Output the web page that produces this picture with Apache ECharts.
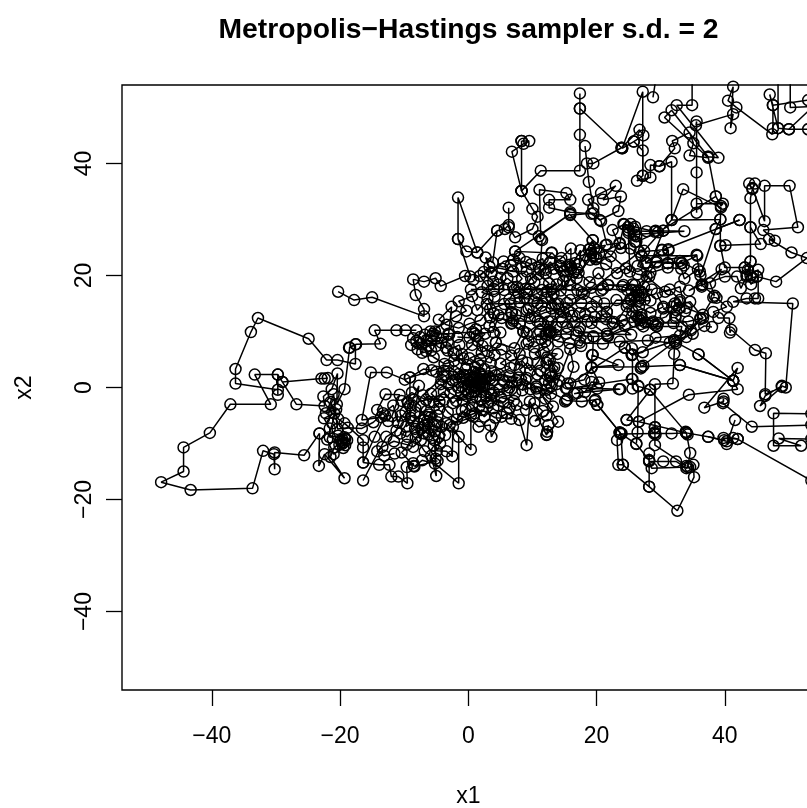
<!DOCTYPE html>
<html>
<head>
<meta charset="utf-8">
<script src="https://cdn.jsdelivr.net/npm/echarts@6/dist/echarts.min.js"></script>
<style>
html, body { margin: 0; padding: 0; background: #fff; overflow: hidden; }
#main { width: 807px; height: 808px; }
</style>
</head>
<body>
<div id="main"></div>
<script>
// sampler chain, one list per stretch of the plot
let xTicks = [-40, -20, 0, 20, 40];
let yTicks = [-40, -20, 0, 20, 40];

let westArm = [[-23.2,-8.2],[-25.6,-12.1],[-30.2,-11.6],[-30.2,-14.6],[-30.3,-11.9],[-32,-11.3],[-33.65,-18],[-43.3,-18.3],[-47.9,-16.9],[-44.4,-15],[-44.4,-10.7],[-40.3,-8.1],[-37.1,-3],[-30.8,-3],[-33.3,2.3],[-29.7,2.3],[-29.7,-1.3],[-29.7,-0.4],[-36.3,0.7],[-36.3,3.3],[-33.9,9.9],[-32.8,12.4],[-24.9,8.7],[-22.1,4.9],[-20.4,4.9],[-17.6,4.2],[-17.6,7.7],[-18.6,7.1],[-17.5,7.7],[-13.7,7.8],[-14.6,10.2],[-11.2,10.2],[-9.8,10.2],[-8.1,10.2]];
let westLink = [[-29.7,2.3],[-29,1],[-26.8,-3],[-22.4,-3.3],[-22.6,-1.6],[-21.3,-0.3],[-20.4,2.5],[-20.5,-3],[-19.3,-0.3],[-18.5,7.1]];
let westLink2 = [[-29,1],[-22.9,1.6],[-22.4,1.6],[-21.9,1.7]];
let northWest = [[-20.3,17.1],[-17.8,15.6],[-15,16.1],[-6.9,12.7],[-6.9,14],[-8.2,16.5],[-8.6,19.3],[-6.9,18.9],[-5.1,19.5],[-4.3,18.1],[-0.5,19.9],[0.3,19.8],[-1.6,26.5],[-0.3,24.3],[1.4,24.1],[-1.6,33.9],[-1.6,26.5]];
let westCluster = [[-23.2,-8.2],[-23.3,-14],[-22.4,-11.9],[-19.3,-16.2],[-21.5,-12.4],[-20.9,-10.7],[-19.7,-9.7],[-19.2,-9.2],[-19.7,-10.1],[-20.3,-8.6],[-21.6,-8.9],[-21.6,-7.3],[-22.5,-5.5],[-20.9,-4.6],[-21.5,-2.6],[-20.3,-5.6],[-19.3,-6.4],[-16.4,-9.4],[-16.4,-10.7],[-16.4,-13.4],[-14.6,-8.8],[-13,-5],[-14.2,-4],[-12.9,-1.2],[-10.7,-1.3],[-11.9,-5.1],[-12.5,-6],[-13.6,-5.3],[-16.6,-5.8],[-15.2,2.7],[-12.7,2.7],[-9.9,1.4],[-9.1,1.8],[-9.1,-3.2],[-7.7,0.3],[-8.3,-4.4],[-9.4,-2.8],[-9.7,-7],[-7.6,-5.2],[-8,-8],[-6.8,-6.8],[-5.6,-9],[-6.4,-6],[-4.8,-5],[-6.5,-4.2],[-8.6,-6],[-10.5,-5],[-11.2,-7.7],[-12.8,-8.8],[-16.4,-16.6]];
let westKnot = [[-19.6,-9.3],[-19.4,-9.8],[-19.9,-9.5],[-19.2,-10.3],[-18.9,-9.4],[-19.3,-8.9],[-20.1,-10.2],[-19.5,-10.8],[-21,-11.9],[-22,-9.3],[-21.2,-6.4],[-20.6,-3.9],[-22.2,-4.6],[-21,-1.2],[-20.4,-7.4],[-18.8,-7.2],[-16.6,-7.3],[-14.8,-6.2],[-13.3,-4.6],[-11.7,-3.2],[-11,-6.2],[-9.8,-4.4],[-8.5,-2.2],[-7.4,-3.4],[-7.8,-6.4],[-6.9,-8.2],[-6.2,-7.2],[-5.2,-6.6],[-5.9,-5.3],[-6.9,-5.8],[-7.2,-7.2],[-6.2,-8.4],[-5.2,-7.8],[-4.2,-7],[-4.6,-8.8],[-5.4,-10.4],[-4.4,-10],[-3.6,-8.5],[-4.8,-6.2],[-6.1,-4.8],[-4.5,-3.8],[-5.4,-2.6],[-3.8,-2.2],[-6.6,-2.2],[-8.8,-0.9],[-10.4,-2.4],[-9,-5.4],[-10.6,-8.2],[-9.5,-8.8],[-8.3,-7.4],[-7.4,-9.4],[-8.6,-10.6],[-9.6,-10.2],[-11.6,-9.6],[-13.4,-10.6],[-14.2,-11.4],[-13.1,-12.2],[-11.5,-11.8]];
let southWest = [[-16.4,-13.4],[-13.9,-13.8],[-12.3,-13.8],[-12,-15.9],[-10.9,-15.9],[-9.5,-17.1],[-9.6,-14.2],[-8.6,-13.5],[-8.5,-14],[-10.4,-11.6],[-8.2,-9],[-6.8,-11.4],[-5.8,-12.2],[-5,-15.8],[-5.1,-12.7],[-5.3,-9.4],[-4.9,-11.3],[-3.4,-11.4],[-2.5,-12.3],[-2.4,-7],[-1.5,-8.8],[-1.5,-17.1],[-5.2,-13.6],[-7.2,-13],[-8.4,-14.1],[-4.8,-13.1]];
let southLink = [[-3.4,-6.4],[0.4,-11.1],[0.4,-5],[-1,-4.2],[1.6,-7],[3.4,-6.7],[3.6,-8.8],[5.2,-5.2],[6,-4.6],[8,-5.8],[9.1,-10.3],[9.6,-2.5],[12.2,-8.5],[12.5,-6.7],[12.3,-7.9],[12.2,-8.4],[14,-6.1],[10.6,0.2],[12.2,-0.4],[15.3,-2.3],[15.1,-2.5],[15.4,-2.1],[17.7,-2.5],[19.8,-2.2],[20.1,-3.1],[19.7,-2.4],[23.7,-8.1]];

let centreKnot = [[-5.7,3.1],[-7,3.3],[-9.1,1.8],[-3.1,3.9],[-1.5,2.4],[-2.4,1.2],[-0.4,3.2],[0.8,1.3],[-1,0.2],[0.2,2.2],[1.8,2.6],[1,0.4],[2.1,1.1],[1.3,2],[0,-1],[-1.9,-2.4],[1.2,-1.7],[2.5,0.4],[3.4,1.6],[1.5,4.2],[0.2,5.2],[2.1,6.2],[1.5,8.3],[2.6,9.6],[1.2,10.4],[0.6,7.6],[-1,6],[-2.2,4.8],[-3.2,6.6],[-1.4,7.6],[-0.8,5.2],[-3.7,4.2],[-5.4,5.4],[-6.6,6.5],[-8.1,8.3],[-8.9,7.6],[-7.9,6.8],[-6.5,8.5],[-5,7.4],[-5,9.2],[-6.8,9.4],[-7.3,7.8],[-4.2,8],[-3,9.4],[-5.9,10],[-1.9,12.7],[-0.3,13.7],[-1.5,15.4],[0.6,16.3],[1.4,13.8],[3,15.9],[4,13.2],[3.3,11],[5,9.8],[4.3,8],[3,6.5],[5.2,6.8],[6.7,5.7],[5,4.3],[6.6,3.5],[4.3,2.2],[5.6,1],[7.5,1.3],[6.1,-0.5],[4,-0.9],[3.1,-2.7],[1.7,-3.4],[3.9,-3.7],[2.5,-5.2],[0.6,-3.1],[-0.9,-2.2],[-2.8,-1],[-4.3,0.6],[-5.8,-1.1],[-4.5,-2.5],[-3.2,-4.4],[-1.8,-5.7],[-0.4,-3.9],[1,-0.8],[2.2,0.2],[3.6,-1.2],[5.1,-1.8],[7.1,-2.4],[6.4,-3.6],[4.6,-3.2],[2.8,-1.6],[1.5,0.7],[0.5,0.9],[2.1,1.9],[3.6,2.9],[2.7,1.5],[1,1.6],[-0.4,-0.5],[-2.4,-2.8],[-3.8,-0.8],[-6.1,-2.6],[-7.1,-1.4],[-3.9,1.9]];
let coreRows = [[-3.4,1.9],[-2,1.4],[-1.2,1.9],[0.2,1],[1.4,1.5],[2.6,1],[3.8,1.3],[5.4,1.4],[6.8,0.9],[7.8,1.8],[6.4,2],[4.8,2.3],[3.2,2],[1.8,0.4],[0.6,0.2],[-0.8,1],[-1.6,0],[-3,0.6],[-4.2,1.4],[-5,2.8],[-3.8,3],[-2.2,2.8],[-0.6,2.2],[0.9,2.8],[2.5,3.3],[1.1,3.6],[-0.4,1.5],[0.5,0.5],[1.3,1],[0.8,1.9],[1.9,1.4],[1.1,0.1],[0,0.1],[-1.1,-1],[0.6,-1.8],[2.1,-0.8],[3.3,-0.3],[4.8,-0.4],[6.4,0],[8.4,0.6],[9.7,-0.3],[10.6,-0.2],[8.9,1.4],[7.3,-1],[5.5,-2.6],[3.6,-2.4],[1.9,-2.2],[1,-4.6],[-0.8,-5.4],[-2.9,-6.7],[0.8,-5.2],[2.1,-4],[4.2,-5.4],[6.7,-5.6],[7.5,-3.1],[9,-4],[10.3,-2.8],[11.6,-4.2],[10.4,-6],[12.2,-5],[13.2,-3.4],[12,-2],[11,-0.9],[13,0.2],[12,1.3],[12.7,2.2],[14.2,1.2],[13.4,3.6],[12.7,4.9],[13.9,6],[11.8,6.3],[10.8,4.4],[9.7,3],[8.4,4.8],[7.2,4],[8,6],[9.1,7.8],[10.2,7.2],[12,8.2],[12.7,9.9],[11.2,11.4],[9.1,9.7],[8,11.4],[6.7,11.4],[6.7,13.5],[4.7,12.9],[3.9,9.9],[1,9.6],[1.3,9.2],[0.7,9.9],[-3.1,9.6],[-5.5,9.6],[-5.7,9.2],[-5.2,10],[-3.5,7.1],[-2.3,6.2],[-0.2,4],[1.9,4.9],[3.5,4.4],[4.1,5.8],[2.2,7.4],[0.2,8.9],[-1.7,9]];
let midBand = [[4.3,8],[7.2,7],[8.6,10],[9.4,8.2],[10.9,9.5],[12.4,7.4],[10.4,6],[12.2,4.4],[11.2,3],[13,1.9],[12.8,2.5],[12.4,5],[14,3.5],[12.6,0.8],[10.8,2.3],[9.2,4.4],[8,3.2],[9.1,1.7],[8.4,-0.5],[10.6,0.2],[12.9,-1.1],[13.8,0.6],[15.9,6.8],[16.4,3.7],[15.5,0.7],[18.1,1.4],[19.2,3.6],[23.4,4],[19.3,5.8],[19.2,3.5],[20.4,0.9],[19.2,1],[18.2,-0.8],[16.5,-1.1],[20.1,-0.2],[23.7,-0.3],[15.2,-0.1]];
let midBand2 = [[6.8,13.3],[6.8,11.5],[5.2,12.4],[8.6,10],[9.4,14.1],[12.5,11.8],[12.7,9.9],[13.7,10.8],[11.2,10],[11.4,8.6],[13.6,9.4],[15.3,9.6],[16.8,9.3],[19.5,9.1],[21.7,9.2],[26.9,11.3],[25.5,12.6],[24,12],[22.5,11.4],[21.5,12.2],[19.7,12.6],[18.2,13.1],[16.6,11.7],[15.6,13.6],[14.4,12.6],[13,14.1],[12,16],[10.2,15.4],[9.1,16.8],[8,15.2],[6.4,15.7],[7.6,18],[6.1,19.5],[4.7,18.4],[3,18.1],[1.8,19.9],[3.3,21.6],[5.3,21.2],[7,20.7],[9.1,20.7],[10.3,18.8],[8.9,17.6],[11.5,17.4],[13.8,18.4],[12.1,20.4],[14.4,21.7],[15.8,19.2],[14.4,17.3],[15.9,15.6],[18,16.7],[20,15.3],[21.6,13.5],[23.1,15.6],[25.4,15.5],[28.4,15.5],[27.4,18],[25.6,18.4],[24.2,18.3],[26,18.3],[21.8,18.3],[20.3,20.4],[18.9,18.8],[17.2,20.5],[19,22.8],[21.5,22],[23.2,20.4],[24.6,21.3],[26.4,20.2],[28.2,19.8],[26.5,17.3],[25.3,15.8],[26.6,14.4],[28.4,13.3],[30.4,14.4],[29.4,16.8],[31.4,17.5],[33,15.6],[30.8,12.6],[28.8,11.8],[27,12.4],[27.3,10.9],[29.4,10.9],[33.3,10.9],[33,9.3],[29.2,8.9],[27.2,6.3],[25.5,5.8],[24.4,7.1]];
let bandKnots = [[13,24.1],[14.3,22.5],[15.4,21.6],[16.1,21.3],[16.4,20.6],[15.8,21.9],[17,21.1],[16.6,22.2],[14.9,20.7],[13.3,21.2],[15.2,19.9],[16.9,19.5],[19.2,24],[19.5,23.4],[18.8,24.6],[19.6,24.8],[18.3,23.6],[19.9,22.9],[22.2,23.4],[23.6,25.8],[21.6,25.5],[20.7,29.7],[19.5,31.1],[15.9,30.8],[19.4,26.3],[25.2,20.7],[24.9,28.6],[26,28.7],[25,27.6],[26,26],[24.2,29.2],[29.1,27.8],[30.4,28],[26.5,16.5],[26.8,15.9],[26.2,17],[27.1,16.9],[25.9,16.2],[26.5,15.4],[27.5,15.7],[25.4,17.4],[24,18],[21.8,18.3],[20.7,17.3],[19.2,17.8],[17.7,17],[15.9,18.3],[13.3,16.8],[12.2,17.1],[13.6,14.9],[15.4,15.1],[17.4,13.3],[19.2,14.4],[20.8,12.7],[19.2,11.5],[21.8,9.2],[24.7,14.5],[25.6,13.6],[26.5,12.4],[26.8,12],[26.2,12.8],[27,13],[25.9,11.8],[27.6,11.6],[29.1,11.2],[29.4,11],[28.8,11.5],[29.6,11.5],[32,11.5],[34.3,11.8],[36.6,12.4],[34.6,15.3],[32.5,14.7],[32.9,14.2],[32.2,15],[33,15.2],[31.8,14.4],[30.4,14.1],[32.3,12.8],[33.8,13.6],[33,18],[30.7,17.1],[27.8,19.8],[29.4,22.5],[33.3,22.2],[33.6,21.8],[33,22.6],[36.1,20.7],[36.4,18],[35.6,23.7],[27.6,22.2],[30.2,24.6],[31.2,24.7],[26.7,24.2],[13,11.8],[12.7,10],[12.5,10.3],[13,9.8],[12.2,9.5],[14,8.2],[15.8,7.9],[17.6,7.4],[18.4,8.8],[17.4,10.6],[15.4,10.8],[16.2,12.8],[14.2,14],[12,13.4],[10.4,12.6],[9.1,13.8],[7.8,16.9],[9.8,19.4],[11.2,21],[11.5,26.3]];
let bandRows = [[0.4,17.5],[4,17.6],[7.2,17.4],[9.6,17.6],[13,17.5],[17,17.4],[21,17.6],[24.8,17.4],[28.6,17.5],[24.9,15],[21.2,15],[17.6,15.1],[14,15],[10.8,15.1],[6.6,15],[2.9,14.9],[3.4,12.5],[7,11.9],[10.8,11.8],[14.6,11.7],[18.6,11.8],[22.7,11.7],[25.4,9.4],[21.6,9.6],[17.2,10],[17.4,8],[21,7.8],[23.6,8.2],[28,8.4],[31.4,8],[35,9.6],[36.8,11],[38,10.8]];
let upperKnots = [[0.8,19.2],[2.4,20.6],[3.9,18.9],[2.1,17],[4.1,16.2],[5.6,17.4],[5,19.6],[6.6,21.8],[8.4,19.4],[7,17.9],[8.8,16],[10.8,16.8],[12.6,18.6],[10.9,20.2],[12.8,22.4],[14.8,19],[13,16.2],[14.9,13.4],[11.4,14.6],[9.6,12.4],[7.4,13],[5.6,14.9],[3.4,14],[1.9,12],[0.2,11.4],[-1.5,10.6],[-3.4,11.2],[-4.6,12.1],[-2.6,14.4],[-3.2,8.2],[-6.2,7.4],[-7.5,9],[-8.6,8.8],[-7.2,6.2],[-5.8,6.6]];
let midBand3 = [[4.5,28],[5.7,28.3],[6.3,29],[6.3,32.1],[6.3,28.6],[7.3,26.8],[10,28.3],[10.8,30.5],[10,31.9],[8.3,35.1],[11.3,38.7],[17.4,38.7],[17.4,45.1],[17.4,49.8],[17.4,52.5],[17.4,49.8],[23.9,42.8],[19.5,40],[18.5,40],[18.2,43.1],[18.8,36.7],[19.5,32],[18.7,33.5],[20.7,34.7],[23,36],[21,33.5],[23.8,34.1],[23.4,31.5],[20.5,29.9],[19.2,31],[15.9,31.3],[12.6,32.1],[12.6,33.5],[15.9,33.5],[15.3,34.7],[11.1,35.3],[11.3,26.5],[11,27],[15.9,31],[7.3,24.3],[7,22.8],[9,22.4],[11,21.4],[13,24],[7.3,24.3]];
let midBand4 = [[8.3,44],[9.5,44],[8.6,43.5],[6.8,42.1],[8.3,35.1]];
let midBand5 = [[8.3,44],[8.3,35.1]];
let upperGrid = [[1.4,24.1],[4.5,28],[3.8,22.3],[2.7,23.2],[3.6,20.3],[5.5,22.5],[8,23.1],[8.3,21.3],[9.8,22],[11.6,23],[12,21],[14.5,23.1],[16,24.8],[16,21.6],[17.5,24.5],[17.3,22],[19.4,26.3],[20,23.2],[19,24.8],[21.4,25.4],[20.4,23.9],[23.6,25.6],[24.3,29.1],[22.5,28.1],[23.8,24.9],[25.3,24.8],[27,23.5],[27.8,22.3],[29.3,22.3],[31.1,22.2],[33.2,22.2],[35.7,23.5],[27,23.5],[26.4,21.7],[28.4,20.5],[31.1,21.4],[33.2,21.2],[33.7,19.4],[35.8,21.1],[36.5,18.4],[34.4,17.3],[39.5,21.1],[37.7,18.6],[38.4,16.4],[36.4,18.3],[40,19.8],[41.9,19.8],[42.5,17.7],[43.4,19.8],[44,20],[43.6,21],[44.3,19.6],[45,19.8],[44.1,18.4],[43.1,21.4],[44,22.5],[43.4,20.1],[45.2,21],[45.2,15.9],[44.7,15.9],[43.4,15.9],[41.3,15.3],[50.6,15],[49.5,0],[48.9,0.3],[46.3,-1.5],[45.5,-3.3],[48.9,0.1],[46.3,-1.2],[46.4,6.1],[44.7,6.7],[41,10.3],[40.8,9.8],[40.7,12.4],[39,12.4],[38.2,13.5],[40.3,14.4],[38.7,16],[38.2,16.1],[36.6,13],[34,14.2],[32.3,12.4],[34.7,10.2],[36.2,12.2],[32.2,8.2],[32.1,8.5],[32.4,7.9],[35.9,5.9],[41.3,1.2],[33,4],[27,3.7],[27.3,3.9],[26.9,3.4],[32.2,8.2],[32.1,6],[31.9,0.7],[29.1,0.6],[29.1,-7.1],[29,-8.2]];
let northEast = [[24,42.7],[25.8,43.9],[27.2,42.3],[27.2,37.8],[26.3,36.9],[28.4,37.5],[28.4,39.7],[29.8,39.5],[31.7,40.3],[31.7,29.9],[39.3,30],[39.4,32.1],[33.5,35.4],[31.7,29.9],[27.4,24.4],[26.2,27],[25.7,28.4],[25.3,29.2],[25,28],[27.8,27.9],[29.2,28],[30.4,28],[33.7,27.9],[25.9,27.3],[26.2,26],[29.6,27.7],[38.6,34.1],[39.4,32.4],[39.7,32.8],[35.6,32.8],[35.6,31.2],[35.6,38.4],[35.6,47.5],[35.5,46.8],[41.3,48.8],[40.9,46.3],[41.3,53.7],[40.5,51.2],[41.8,50],[47.4,45.2],[47.5,46.3],[47.5,50.4],[47,52.3],[48.3,46.3],[48.3,57],[48.3,46.3],[50,46.1],[53,46.1]];
let northEast2 = [[23.9,42.8],[26.7,46],[27.3,45],[25.8,43.9]];
let northEast3 = [[24,42.7],[27.2,52.8],[27.2,37.8]];
let northEast4 = [[28.8,51.8],[29.5,57]];
let northEast5 = [[34.9,57],[34.9,50.4],[32.5,50.4],[39,41],[37.4,41.2],[31.7,49.5],[30.6,48.2],[37.4,41],[34.5,41.4],[35.1,43.6],[34.5,45.5],[31.8,44],[32.2,42.7],[29.8,39.5]];
let northEast6 = [[37.4,41.2],[38.6,34.1]];
let northEast7 = [[50.2,57],[50.2,50],[54,50.2]];
let northEast8 = [[50,46.1],[54,50.4]];
let northEast9 = [[47.5,50.4],[53,51.3]];
let eastLoop = [[42.3,29.9],[30.2,24.5],[31.2,24.5],[31.1,22.2]];
let eastLoop2 = [[42.3,29.9],[38.6,28.3],[39.3,30],[39.3,25.3],[40.1,25.4],[45.6,25.6],[44,28.6],[44,33.8],[44.3,35.4],[43.8,36.4],[44.7,36.4],[44.3,35.6],[46.2,29.7],[46.2,36],[50.1,36],[51.4,28.6],[46,28.1],[47.8,26.2],[46.9,26.5],[50.4,24.1],[52.8,23.1],[48,18.9],[45,19.8]];
let eastLoop3 = [[44,28.6],[44,22.5]];
let eastLoop4 = [[39.3,25.3],[40,21.4],[43.1,21.4]];
let eastLoop5 = [[38.6,28.3],[36.2,20]];

let southEast = [[20.1,-3.1],[23.7,-8.1],[23.2,-9.4],[23.4,-13.8],[24.1,-13.8],[23.8,-8.3],[23.6,-8],[23.9,-8.2],[29,-8.2],[29.2,-8.4],[29.1,-8],[31.7,-8.2],[34,-8.1],[34.2,-8.4],[33.9,-7.9],[37.4,-8.8],[39.9,-9.4],[39.8,-9],[42,-9.2],[53.5,-16.6]];
let southLoop = [[24.1,-13.8],[28.2,-17.7],[32.6,-22],[35.2,-16],[35.1,-13.8],[34.6,-14.2],[34,-14.4],[32.4,-13.2],[30.4,-13.2],[28.2,-13.2],[28.6,-14.4],[34.2,-14.2],[34.6,-11.7],[34,-8.1]];
let southLoop2 = [[28.2,-17.7],[28.2,-11.8],[28.2,-13]];
let southLoop3 = [[23.6,-8.1],[26.2,-10.1],[28.2,-13]];
let southLoop4 = [[29.1,-7.1],[29.1,-10.3],[34,-14]];
let southLoop5 = [[24.7,-5.8],[26.6,-6.1],[34,-8.1]];
let southLoop6 = [[24.7,-5.8],[28.4,-0.4],[26.5,0.2],[26.4,-8],[26.2,-10]];
let southLoop7 = [[26.5,0.3],[25.5,1.5],[15.4,-0.2]];
let southLoop8 = [[28.3,-0.4],[34,-8.1]];
let southLoop9 = [[23.5,-0.3],[17,-1]];
let eastDrift = [[26.6,-6.1],[34.4,-1.3],[42,-0.3],[41.3,1.2],[42,3.5],[36.8,-3.6],[39.8,-2.5],[39.8,-2],[39.7,-2.8],[44.2,-7],[53.5,-6.7]];
let eastDrift2 = [[35.9,5.9],[41.3,1.2]];
let eastDrift3 = [[33,4],[41.3,1.2]];
let eastDrift4 = [[41.6,-5.8],[40.3,-10.1],[41.3,-9],[42,-9.2]];
let eastDrift5 = [[37.4,-8.8],[40.3,-9.6]];
let boxEast = [[53.5,-4.7],[47.6,-4.6],[47.6,-10.4],[51.9,-10.4],[48.4,-9.1],[53.5,-9.2]];
let rightHook = [[36.2,12.4],[34,9],[25.5,5.8],[24.4,7.1],[15.9,0.7]];
let rightHook2 = [[19.2,3.6],[27,3.7],[25.5,7]];
let rightHook3 = [[25.6,5.9],[25.6,1.5],[25.6,-0.2]];
let rightHook4 = [[21.7,9.2],[24.4,11],[21.6,13.5]];
let rightHook5 = [[19.5,9.1],[19.4,5.8]];

let allChains = [westArm, westLink, westLink2, northWest, westCluster, westKnot, southWest, southLink, centreKnot, coreRows, midBand, midBand2, bandKnots, bandRows, upperKnots, midBand3, midBand4, midBand5, upperGrid, northEast, northEast2, northEast3, northEast4, northEast5, northEast6, northEast7, northEast8, northEast9, eastLoop, eastLoop2, eastLoop3, eastLoop4, eastLoop5, southEast, southLoop, southLoop2, southLoop3, southLoop4, southLoop5, southLoop6, southLoop7, southLoop8, southLoop9, eastDrift, eastDrift2, eastDrift3, eastDrift4, eastDrift5, boxEast, rightHook, rightHook2, rightHook3, rightHook4, rightHook5];

let myChart = echarts.init(document.getElementById('main'));

function minusLabel(v) {
    return String(v).replace('-', '\u2212');
}

let fontName = '"Liberation Sans", Arial, sans-serif';

let option = {
    animation: false,
    backgroundColor: '#fff',
    title: {
        text: 'Metropolis\u2212Hastings sampler s.d. = 2',
        left: 468.5,
        top: 11,
        textAlign: 'center',
        textStyle: { fontFamily: fontName, fontWeight: 'bold', fontSize: 28.3, color: '#000' },
        padding: [5, 9, 5, 0]
    },
    grid: {
        left: 122,
        top: 85,
        width: 692.6,
        height: 605,
        show: true,
        borderColor: '#000',
        borderWidth: 1.4,
        backgroundColor: 'transparent',
        outerBoundsMode: 'none'
    },
    xAxis: {
        type: 'value',
        min: -54,
        max: 54,
        name: 'x1',
        nameLocation: 'middle',
        nameGap: 95,
        nameTextStyle: { fontFamily: fontName, fontSize: 23, color: '#000' },
        splitLine: { show: false },
        axisLine: { show: false, onZero: false },
        axisTick: { show: true, length: 16, inside: false, customValues: xTicks, lineStyle: { color: '#000', width: 1.3 } },
        axisLabel: { show: true, margin: 35, customValues: xTicks, formatter: minusLabel, fontFamily: fontName, fontSize: 23, color: '#000' }
    },
    yAxis: {
        type: 'value',
        min: -54,
        max: 54,
        name: 'x2',
        nameLocation: 'middle',
        nameGap: 86,
        nameTextStyle: { fontFamily: fontName, fontSize: 23, color: '#000' },
        splitLine: { show: false },
        axisLine: { show: false, onZero: false },
        axisTick: { show: true, length: 16, inside: false, customValues: yTicks, lineStyle: { color: '#000', width: 1.3 } },
        axisLabel: { show: true, rotate: 90, margin: 26, customValues: yTicks, formatter: minusLabel, fontFamily: fontName, fontSize: 23, color: '#000' }
    },
    series: allChains.map(function (chain) {
        return {
            type: 'line',
            data: chain,
            silent: true,
            clip: true,
            showSymbol: true,
            showAllSymbol: true,
            symbol: 'circle',
            symbolSize: 11,
            lineStyle: { color: '#000', width: 1.5 },
            itemStyle: { color: 'transparent', borderColor: '#000', borderWidth: 1.5 }
        };
    })
};
myChart.setOption(option);
</script>
</body>
</html>
